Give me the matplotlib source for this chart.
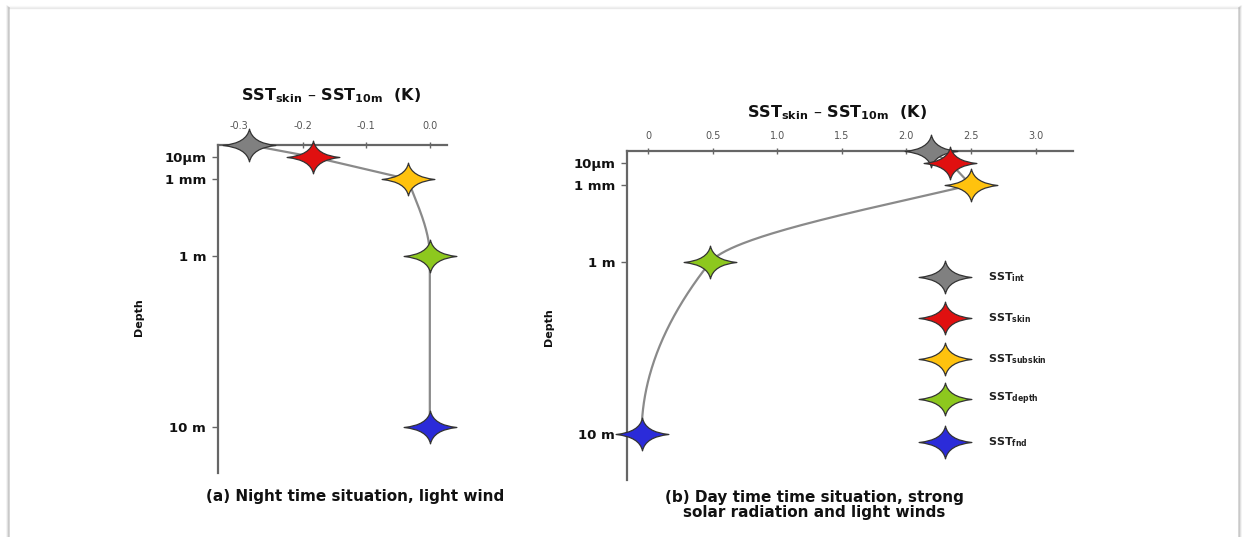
import numpy as np
import matplotlib
matplotlib.use("Agg")
import matplotlib.pyplot as plt
from matplotlib.path import Path
from matplotlib.lines import Line2D

# ---------------- data ----------------
series_labels = ["SST$_{\\mathregular{int}}$", "SST$_{\\mathregular{skin}}$",
                 "SST$_{\\mathregular{subskin}}$", "SST$_{\\mathregular{depth}}$",
                 "SST$_{\\mathregular{fnd}}$"]
series_colors = ["#808080", "#e01010", "#ffc20e", "#8dc81e", "#2b2bd9"]
# depth (m) at which each SST is defined (interface ~ surface)
series_depth = [1e-6, 1e-5, 1e-3, 1.0, 10.0]
night_dT = [-0.284, -0.183, -0.035, 0.0, 0.0]
day_dT = [2.19, 2.34, 2.50, 0.48, -0.05]

depth_ticks = [1e-5, 1e-3, 1.0, 10.0]
depth_tick_labels = ["10µm", "1 mm", "1 m", "10 m"]
night_xticks = [-0.3, -0.2, -0.1, 0.0]
night_xticklabels = ["-0.3", "-0.2", "-0.1", "0.0"]
day_xticks = [0, 0.5, 1.0, 1.5, 2.0, 2.5, 3.0]
day_xticklabels = ["0", "0.5", "1.0", "1.5", "2.0", "2.5", "3.0"]

xlabel = "SST$_{\\mathregular{skin}}$ – SST$_{\\mathregular{10m}}$  (K)"
caption_a = "(a) Night time situation, light wind"
caption_b = "(b) Day time time situation, strong\nsolar radiation and light winds"

# ---------------- schematic depth scale ----------------
lg_knots = np.array([-6.0, -5.0, -3.0, 0.0, 1.0])
pos_knots = np.array([0.0, 12.0, 34.0, 111.0, 282.0])


def _pl(x, xs, ys):
    x = np.asarray(x, dtype=float)
    y = np.interp(x, xs, ys)
    s0 = (ys[1] - ys[0]) / (xs[1] - xs[0])
    s1 = (ys[-1] - ys[-2]) / (xs[-1] - xs[-2])
    y = np.where(x < xs[0], ys[0] + (x - xs[0]) * s0, y)
    y = np.where(x > xs[-1], ys[-1] + (x - xs[-1]) * s1, y)
    return y


def fwd(d):
    d = np.clip(np.asarray(d, dtype=float), 1e-12, None)
    return _pl(np.log10(d), lg_knots, pos_knots)


def inv(p):
    return 10 ** _pl(p, pos_knots, lg_knots)


depth_bottom = float(inv(328.0))


# ---------------- monotone cubic (PCHIP) ----------------
def pchip(xk, yk, xq):
    xk = np.asarray(xk, float); yk = np.asarray(yk, float)
    h = np.diff(xk); d = np.diff(yk) / h
    n = len(xk)
    m = np.zeros(n)
    for k in range(1, n - 1):
        if d[k - 1] * d[k] > 0:
            w1 = 2 * h[k] + h[k - 1]; w2 = h[k] + 2 * h[k - 1]
            m[k] = (w1 + w2) / (w1 / d[k - 1] + w2 / d[k])
    def endslope(h0, h1, d0, d1):
        s = ((2 * h0 + h1) * d0 - h0 * d1) / (h0 + h1)
        if np.sign(s) != np.sign(d0):
            s = 0.0
        elif np.sign(d0) != np.sign(d1) and abs(s) > abs(3 * d0):
            s = 3 * d0
        return s
    if n > 2:
        m[0] = endslope(h[0], h[1], d[0], d[1])
        m[-1] = endslope(h[-1], h[-2], d[-1], d[-2])
    else:
        m[:] = d[0]
    out = np.empty_like(xq, dtype=float)
    for i, x in enumerate(xq):
        k = min(max(np.searchsorted(xk, x) - 1, 0), n - 2)
        t = (x - xk[k]) / h[k]
        h00 = 2 * t**3 - 3 * t**2 + 1; h10 = t**3 - 2 * t**2 + t
        h01 = -2 * t**3 + 3 * t**2; h11 = t**3 - t**2
        out[i] = h00 * yk[k] + h10 * h[k] * m[k] + h01 * yk[k + 1] + h11 * h[k] * m[k + 1]
    return out


# ---------------- star marker ----------------
def star_path(w=1.0, h=0.62, c=0.11, ch=0.09):
    verts = [(w, 0), (c, ch), (0, h), (-c, ch), (-w, 0), (-c, -ch), (0, -h), (c, -ch), (w, 0), (w, 0)]
    codes = [Path.MOVETO, Path.CURVE3, Path.CURVE3, Path.CURVE3, Path.CURVE3,
             Path.CURVE3, Path.CURVE3, Path.CURVE3, Path.CURVE3, Path.CLOSEPOLY]
    return Path(verts, codes)


STAR = star_path()
MS = 38

W, H = 1246, 537
fig = plt.figure(figsize=(W / 100, H / 100), dpi=100)
fig.patch.set_facecolor("white")


def fx(px):
    return px / W


def fy(py):
    return 1 - py / H


# card frame with soft shadow
for k, a in enumerate([0.10, 0.2, 0.4]):
    off = 3 - k
    fig.add_artist(Line2D([fx(10 - off), fx(10 - off)], [0, fy(9 - off)], color="#888", lw=1.2, alpha=a))
    fig.add_artist(Line2D([fx(1238 + off), fx(1238 + off)], [0, fy(9 - off)], color="#888", lw=1.2, alpha=a))
    fig.add_artist(Line2D([fx(10 - off), fx(1238 + off)], [fy(9 - off), fy(9 - off)], color="#aaa", lw=1.0, alpha=a * 0.6))


def setup_axes(rect, xlim, xticks, xticklabels, xpad):
    ax = fig.add_axes(rect)
    ax.set_yscale("function", functions=(fwd, inv))
    ax.set_ylim(depth_bottom, 1e-6)
    ax.set_xlim(*xlim)
    for s in ["right", "bottom"]:
        ax.spines[s].set_visible(False)
    for s in ["left", "top"]:
        ax.spines[s].set_color("#666")
        ax.spines[s].set_linewidth(1.6)
    ax.xaxis.tick_top()
    ax.set_xticks(xticks)
    ax.set_xticklabels(xticklabels)
    ax.tick_params(axis="x", direction="inout", length=4, width=1, color="#666",
                   labelsize=7, labelcolor="#555", pad=xpad)
    ax.set_yticks(depth_ticks)
    ax.set_yticklabels(depth_tick_labels)
    ax.yaxis.set_minor_locator(matplotlib.ticker.NullLocator())
    ax.tick_params(axis="y", direction="out", length=4.5, width=1, color="#666",
                   labelsize=9.5, labelcolor="#111", pad=4)
    for t in ax.get_yticklabels():
        t.set_fontweight("bold")
    ax.patch.set_alpha(0)
    return ax


def draw_profile(ax, values):
    pos = fwd(series_depth)
    vals = np.asarray(values, float)
    # upper part: straight segments interface -> skin -> subskin
    ax.plot(vals[:3], series_depth[:3], color="#8a8a8a", lw=1.6, zorder=2, clip_on=False)
    # lower part: smooth monotone curve subskin -> depth -> fnd
    pq = np.linspace(pos[2], pos[4], 300)
    xq = pchip(pos[2:], vals[2:], pq)
    ax.plot(xq, inv(pq), color="#8a8a8a", lw=1.6, zorder=2, clip_on=False)
    for v, d, c in zip(values, series_depth, series_colors):
        ax.plot([v], [d], marker=STAR, ms=MS, mfc=c, mec="#333", mew=0.9,
                ls="none", zorder=3, clip_on=False)


# left panel
axL = setup_axes([fx(218), fy(473), fx(447) - fx(218), fy(145) - fy(473)],
                 (-0.333, 0.027), night_xticks, night_xticklabels, 8)
draw_profile(axL, night_dT)

# right panel
axR = setup_axes([fx(627), fy(480), fx(1073) - fx(627), fy(151) - fy(480)],
                 (-0.163, 3.29), day_xticks, day_xticklabels, 5)
draw_profile(axR, day_dT)

# legend (manual, in right axes)
leg_y = [0.617, 0.492, 0.368, 0.246, 0.116]
for lab, c, yy in zip(series_labels, series_colors, leg_y):
    axR.plot([0.713], [yy], transform=axR.transAxes, marker=STAR, ms=MS, mfc=c,
             mec="#333", mew=0.9, ls="none", clip_on=False, zorder=3)
    axR.text(0.809, yy, lab, transform=axR.transAxes, fontsize=8, fontweight="bold",
             color="#222", va="center", ha="left")

# titles / labels / captions
fig.text(fx(331), fy(96), xlabel, ha="center", va="center", fontsize=11.5, fontweight="bold", color="#111")
fig.text(fx(837), fy(113), xlabel, ha="center", va="center", fontsize=11.5, fontweight="bold", color="#111")
fig.text(fx(139), fy(317), "Depth", rotation=90, ha="center", va="center", fontsize=8, fontweight="bold", color="#111")
fig.text(fx(549), fy(327), "Depth", rotation=90, ha="center", va="center", fontsize=8, fontweight="bold", color="#111")
fig.text(fx(355), fy(497), caption_a, ha="center", va="center", fontsize=11, fontweight="bold", color="#111")
fig.text(fx(814), fy(505), caption_b, ha="center", va="center", fontsize=11, fontweight="bold",
         color="#111", linespacing=1.0, multialignment="center")

fig.savefig("out.png", dpi=100, facecolor="white")
